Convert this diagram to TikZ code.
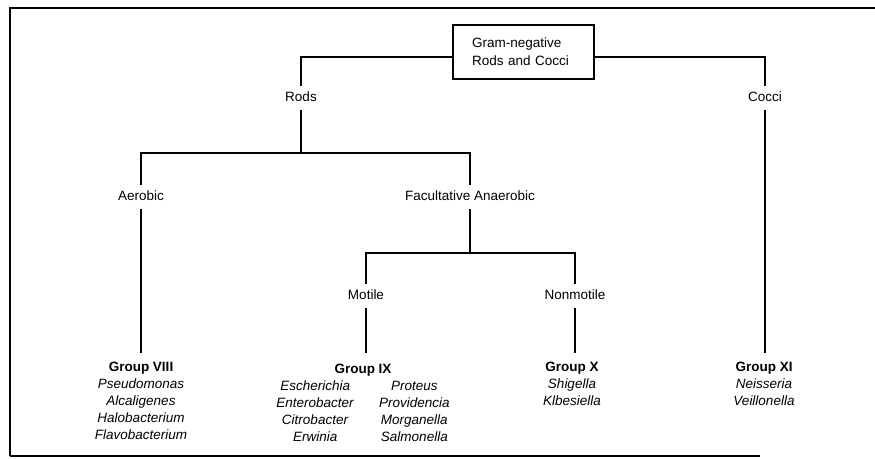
\documentclass[tikz,border=0pt]{standalone}
\usepackage{fontspec}
\setmainfont{Liberation Sans}
\begin{document}
\begin{tikzpicture}[x=1pt,y=-1pt,
  line width=1.8pt,
  lbl/.style={inner xsep=0pt, inner ysep=5pt, font=\fontsize{13.5}{17}\selectfont, text height=9.7pt, text depth=2.8pt},
  grp/.style={inner xsep=0pt, inner ysep=8pt, align=center, anchor=north, font=\fontsize{13.5}{17}\selectfont},
  frame/.style={line width=2pt}
]
\useasboundingbox (0,0) rectangle (875,458);
% frame
\draw[frame] (10,456) -- (10,8) -- (875,8);
\draw[frame] (10,456) -- (760,456);

% root
\node[draw, line width=1.4pt, text width=103pt, inner xsep=19pt, minimum height=54pt, align=left,
      font=\fontsize{13.5}{18}\selectfont] (root) at (523.5,52) {Gram-negative\\Rods and Cocci};

% labels
\node[lbl] (rods)  at (301,98)  {Rods};
\node[lbl] (cocci) at (765,98)  {Cocci};
\node[lbl] (aer)   at (141,197) {Aerobic};
\node[lbl] (fac)   at (470,197) {Facultative Anaerobic};
\node[lbl] (mot)   at (366,296) {Motile};
\node[lbl] (non)   at (575,296) {Nonmotile};

% groups
\node[grp] (g8) at (141,353) {\textbf{Group VIII}\\\textit{Pseudomonas}\\\textit{Alcaligenes}\\\textit{Halobacterium}\\\textit{Flavobacterium}};
\node[grp] (g9) at (363,353) {\def\arraystretch{1}\begin{tabular}{@{}c@{\hspace{25pt}}c@{}}
  \multicolumn{2}{c}{\textbf{Group IX}}\\
  \textit{Escherichia} & \textit{Proteus}\\
  \textit{Enterobacter} & \textit{Providencia}\\
  \textit{Citrobacter} & \textit{Morganella}\\
  \textit{Erwinia} & \textit{Salmonella}
\end{tabular}};
\node[grp] (g10) at (572,353) {\textbf{Group X}\\\textit{Shigella}\\\textit{Klbesiella}};
\node[grp] (g11) at (764,353) {\textbf{Group XI}\\\textit{Neisseria}\\\textit{Veillonella}};

% connectors
\coordinate (h1) at (0,153);
\coordinate (h2) at (0,253);
\draw ([yshift=-5pt]root.west) -| (rods.north);
\draw ([yshift=-5pt]root.east) -| (cocci.north);
\draw (rods.south) -- (rods.south |- h1);
\draw (aer.north) |- (fac.north |- h1) -- (fac.north);
\draw (fac.south) -- (fac.south |- h2);
\draw (mot.north) |- (non.north |- h2) -- (non.north);
\draw (aer.south) -- (aer.south |- g8.north);
\draw (mot.south) -- (mot.south |- g9.north);
\draw (non.south) -- (non.south |- g10.north);
\draw (cocci.south) -- (cocci.south |- g11.north);
\end{tikzpicture}
\end{document}
